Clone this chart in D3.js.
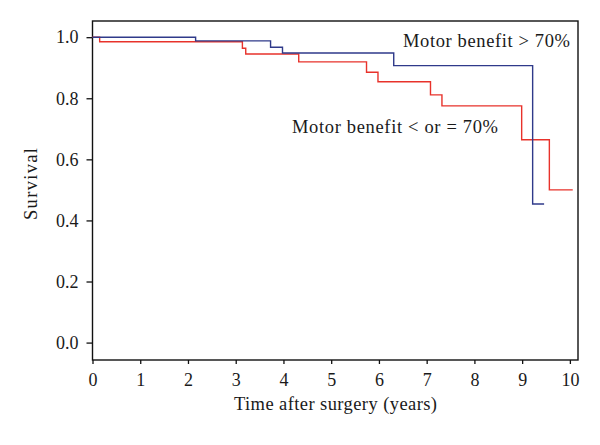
<!DOCTYPE html>
<html>
<head>
<meta charset="utf-8">
<script src="https://cdn.jsdelivr.net/npm/d3@7"></script>
<style>
  html, body { margin: 0; padding: 0; background: #fff; }
  svg { display: block; }
  text { font-family: "Liberation Serif", "Times New Roman", serif; fill: #1a1a1a; }
</style>
</head>
<body>
<svg id="chart" width="600" height="445"></svg>
<script>
// Kaplan-Meier step data (time in years, survival)
const blueTimes = [0, 2.16, 3.73, 3.98, 6.31, 9.22, 9.46];
const blueSurv  = [1.0, 0.988, 0.967, 0.948, 0.907, 0.454, 0.454];
const redTimes  = [0, 0.15, 3.14, 3.21, 4.32, 5.74, 5.98, 7.08, 7.32, 8.99, 9.57, 10.06];
const redSurv   = [1.0, 0.985, 0.964, 0.945, 0.919, 0.885, 0.854, 0.811, 0.775, 0.664, 0.500, 0.500];
const xTicks = [0, 1, 2, 3, 4, 5, 6, 7, 8, 9, 10];
const yTicks = [0.0, 0.2, 0.4, 0.6, 0.8, 1.0];
const seriesLabels = ["Motor benefit > 70%", "Motor benefit < or = 70%"];
const xTitle = "Time after surgery (years)";
const yTitle = "Survival";

const svg = d3.select("#chart");
const mLeft = 92.5, mRight = 578, mTop = 21, mBottom = 360;

const x = d3.scaleLinear().domain([0, 10.17]).range([mLeft, mRight]);
const y = d3.scaleLinear().domain([-0.057, 1.053]).range([mBottom, mTop]);

// frame
svg.append("rect")
  .attr("x", mLeft).attr("y", mTop)
  .attr("width", mRight - mLeft).attr("height", mBottom - mTop)
  .attr("fill", "none").attr("stroke", "#111").attr("stroke-width", 1.4);

// axes
const yAxis = svg.append("g").attr("transform", `translate(${mLeft},0)`)
  .call(d3.axisLeft(y).tickValues(yTicks).tickFormat(d3.format(".1f")).tickSize(6).tickPadding(8));
const xAxis = svg.append("g").attr("transform", `translate(0,${mBottom})`)
  .call(d3.axisBottom(x).tickValues(xTicks).tickFormat(d3.format("d")).tickSize(4).tickPadding(9));
[yAxis, xAxis].forEach(g => {
  g.select(".domain").remove();
  g.selectAll(".tick line").attr("stroke", "#111").attr("stroke-width", 1.3);
  g.selectAll(".tick text").style("font-family", '"Liberation Serif", serif')
    .style("font-size", "18px").attr("fill", "#1a1a1a");
});

// step lines
const line = d3.line().x(d => x(d[0])).y(d => y(d[1])).curve(d3.curveStepAfter);
const blueData = blueTimes.map((t, i) => [t, blueSurv[i]]);
const redData = redTimes.map((t, i) => [t, redSurv[i]]);
svg.append("path").datum(redData).attr("d", line)
  .attr("fill", "none").attr("stroke", "#e8322b").attr("stroke-width", 1.4);
svg.append("path").datum(blueData).attr("d", line)
  .attr("fill", "none").attr("stroke", "#2f3a8a").attr("stroke-width", 1.4);

// annotations
svg.append("text").attr("x", 403).attr("y", 46.5)
  .attr("textLength", 167).attr("lengthAdjust", "spacing")
  .style("font-size", "18.5px").text(seriesLabels[0]);
svg.append("text").attr("x", 292).attr("y", 133)
  .attr("textLength", 206).attr("lengthAdjust", "spacing")
  .style("font-size", "18.5px").text(seriesLabels[1]);

// axis titles
svg.append("text").attr("x", 234).attr("y", 409.5)
  .attr("textLength", 203).attr("lengthAdjust", "spacing")
  .style("font-size", "18.5px").text(xTitle);
svg.append("text").attr("transform", "translate(36.5,220) rotate(-90)")
  .attr("textLength", 72).attr("lengthAdjust", "spacing")
  .style("font-size", "18.5px").text(yTitle);
</script>
</body>
</html>
